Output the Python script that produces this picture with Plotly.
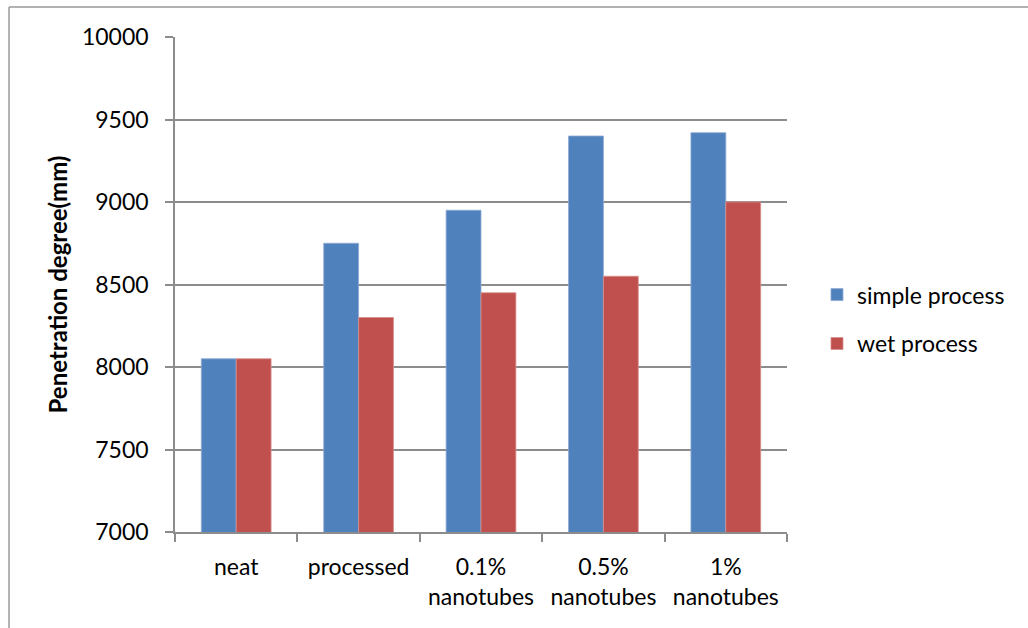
import plotly.graph_objects as go

categories = ["neat", "processed", "0.1%<br>nanotubes", "0.5%<br>nanotubes", "1%<br>nanotubes"]
simple_process = [8050, 8750, 8950, 9400, 9420]
wet_process = [8050, 8300, 8450, 8550, 9000]
y_ticks = [7000, 7500, 8000, 8500, 9000, 9500, 10000]

FONT = "Lato"
GRID = "#8c8c8c"

fig = go.Figure()
fig.add_trace(go.Bar(
    x=categories, y=simple_process, name="simple process",
    marker=dict(color="#4F81BD", line=dict(color="#8fa9d3", width=0.8)),
    legendgroup="a",
))
fig.add_trace(go.Bar(
    x=categories, y=wet_process, name="wet process",
    marker=dict(color="#C0504D", line=dict(color="#d88f8d", width=0.8)),
    legendgroup="b",
))

fig.update_layout(
    width=1028, height=628,
    margin=dict(l=175, r=241, t=37, b=96),
    paper_bgcolor="white", plot_bgcolor="white",
    barmode="group", bargap=0.43, bargroupgap=0,
    font=dict(family=FONT, size=23, color="#000000"),
    legend=dict(
        x=1.049, xanchor="left", y=0.43, yanchor="middle",
        font=dict(family=FONT, size=23, color="#000000"),
        tracegroupgap=16, bgcolor="rgba(0,0,0,0)",
    ),
    showlegend=True,
)

fig.update_xaxes(
    type="category", tickson="boundaries",
    ticks="outside", ticklen=8, tickwidth=1.5, tickcolor=GRID,
    showline=True, linecolor=GRID, linewidth=1.5,
    showgrid=False, tickfont=dict(family=FONT, size=23),
    ticklabelstandoff=14,
)
fig.update_yaxes(
    range=[7000, 10000], tickvals=y_ticks, tickformat="d",
    ticks="outside", ticklen=8, tickwidth=1.5, tickcolor=GRID,
    showline=True, linecolor=GRID, linewidth=1.5,
    showgrid=True, gridcolor=GRID, gridwidth=1.5,
    tickfont=dict(family=FONT, size=23), ticklabelstandoff=12,
    title=dict(text="<b>Penetration degree(mm)</b>", font=dict(family=FONT, size=24), standoff=8),
    zeroline=False,
)

# outer chart frame (left and top edges)
fig.add_shape(type="line", xref="paper", yref="paper",
              x0=-0.2712, x1=-0.2712, y0=-0.5, y1=1.0606,
              line=dict(color="#999999", width=1.5))
fig.add_shape(type="line", xref="paper", yref="paper",
              x0=-0.2712, x1=1.6, y0=1.0606, y1=1.0606,
              line=dict(color="#999999", width=1.5))

fig.write_html("out.html")
